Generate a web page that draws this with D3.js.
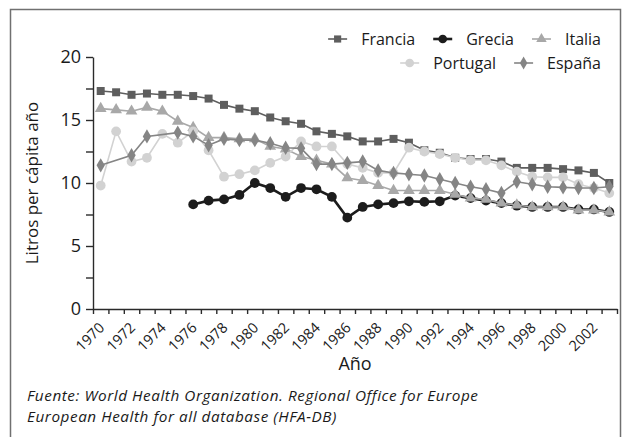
<!DOCTYPE html>
<html>
<head>
<meta charset="utf-8">
<script src="https://cdn.jsdelivr.net/npm/d3@7"></script>
<style>
    body { margin: 0; background: #fff; }
    svg { display: block; font-family: "Open Sans", "Noto Sans", sans-serif; }
</style>
</head>
<body>
<div id="chart"></div>
<script>
// ######### DATA ###########
var years = d3.range(1970, 2004);
var yTicks = [0, 2.5, 5, 7.5, 10, 12.5, 15, 17.5, 20];

var francia = [17.3, 17.2, 17.0, 17.1, 17.0, 17.0, 16.9, 16.7, 16.2, 15.9,
               15.7, 15.2, 14.9, 14.7, 14.1, 13.9, 13.7, 13.3, 13.3, 13.5,
               13.2, 12.6, 12.4, 12.0, 11.9, 11.9, 11.7, 11.2, 11.2, 11.2,
               11.1, 11.0, 10.8, 10.0];
var grecia = [null, null, null, null, null, null, 8.3, 8.6, 8.7, 9.05,
              10.0, 9.6, 8.9, 9.6, 9.5, 8.9, 7.25, 8.1, 8.3, 8.4,
              8.55, 8.5, 8.55, 9.0, 8.8, 8.6, 8.4, 8.2, 8.1, 8.1,
              8.1, 7.9, 7.9, 7.7];
var italia = [15.9, 15.8, 15.7, 16.0, 15.7, 14.9, 14.4, 13.6, 13.6, 13.5,
              13.5, 12.9, 12.7, 12.1, 11.8, 11.5, 10.4, 10.2, 9.8, 9.4,
              9.4, 9.4, 9.4, 9.1, 8.8, 8.7, 8.4, 8.25, 8.1, 8.1,
              8.1, 7.85, 7.85, 7.7];
var portugal = [9.8, 14.1, 11.7, 12.0, 13.9, 13.2, 14.1, 12.6, 10.5, 10.7,
                11.0, 11.6, 12.1, 13.3, 12.9, 12.9, 11.5, 11.2, 10.8, 10.8,
                12.8, 12.5, 12.3, 12.0, 11.8, 11.8, 11.4, 10.9, 10.5, 10.45,
                10.45, 9.9, 9.6, 9.2];
var espana = [11.4, null, 12.2, 13.7, null, 14.0, 13.7, 13.0, 13.5, 13.4,
              13.4, 13.15, 12.8, 12.75, 11.5, 11.5, 11.6, 11.7, 11.0, 10.8,
              10.7, 10.6, 10.3, 10.0, 9.7, 9.5, 9.2, 10.1, 9.9, 9.7,
              9.65, 9.6, 9.6, 9.7];

var seriesNames = ["Francia", "Grecia", "Italia", "Portugal", "España"];
var seriesValues = [francia, grecia, italia, portugal, espana];

// ######### PARAMETERS ###########
var width = 630, height = 437;
var plotLeft = 93, plotRight = 617, plotTop = 57, plotBottom = 309;

var styles = {
    "Francia":  {color: "#5e5e5e", symbol: d3.symbolSquare,   size: 64, lw: 1.6},
    "Grecia":   {color: "#1c1c1c", symbol: d3.symbolCircle,   size: 75, lw: 2.6},
    "Italia":   {color: "#a8a8a8", symbol: d3.symbolTriangle, size: 60, lw: 1.6},
    "Portugal": {color: "#d2d2d2", symbol: d3.symbolCircle,   size: 75, lw: 1.6},
    "España":   {color: "#858585", symbol: d3.symbolDiamond,  size: 60, lw: 1.6}
};

var svg = d3.select("#chart").append("svg")
    .attr("width", width)
    .attr("height", height);

// frame round the figure
svg.append("rect")
    .attr("x", 10.5).attr("y", 9.5)
    .attr("width", 610).attr("height", 440)
    .attr("fill", "none")
    .attr("stroke", "#707070")
    .attr("stroke-width", 1.5);

// scales
var x = d3.scaleBand().domain(years).range([plotLeft, plotRight]);
var xEdge = d3.scaleLinear().domain([1970, 2004]).range([plotLeft, plotRight]);
var y = d3.scaleLinear().domain([0, 20]).range([plotBottom, plotTop]);

// y axis
var yAxis = d3.axisLeft(y)
    .tickValues(yTicks)
    .tickSize(7)
    .tickSizeOuter(0)
    .tickPadding(5)
    .tickFormat(function(d) { return d % 5 === 0 ? d : ""; });

var gy = svg.append("g")
    .attr("transform", "translate(" + plotLeft + ",0)")
    .call(yAxis);
gy.selectAll("text")
    .style("font-size", "18px")
    .style("font-family", "'Open Sans', sans-serif")
    .attr("fill", "#1a1a1a");

// x axis: ticks on the category edges, labels under every other category
var xAxis = d3.axisBottom(xEdge)
    .tickValues(d3.range(1970, 2005))
    .tickSize(5)
    .tickSizeOuter(0)
    .tickFormat("");

svg.append("g")
    .attr("transform", "translate(0," + plotBottom + ")")
    .call(xAxis);

svg.selectAll(".domain, .tick line")
    .attr("stroke", "#2a2a2a")
    .attr("stroke-width", 1.4);

svg.append("g").selectAll("text")
    .data(years.filter(function(d) { return d % 2 === 0; }))
    .enter().append("text")
    .attr("transform", function(d) {
        return "translate(" + (x(d) + x.bandwidth() / 2 + 1) + "," + (plotBottom + 16) + ") rotate(-45)";
    })
    .attr("text-anchor", "end")
    .attr("dy", "0.35em")
    .style("font-size", "14.5px")
    .attr("fill", "#1a1a1a")
    .text(function(d) { return d; });

// axis titles
svg.append("text")
    .attr("transform", "translate(38," + ((plotTop + plotBottom) / 2) + ") rotate(-90)")
    .attr("text-anchor", "middle")
    .style("font-size", "17px")
    .attr("fill", "#1a1a1a")
    .text("Litros per cápita año");

svg.append("text")
    .attr("x", (plotLeft + plotRight) / 2)
    .attr("y", 370)
    .attr("text-anchor", "middle")
    .style("font-size", "18px")
    .attr("fill", "#1a1a1a")
    .text("Año");

// source note, one text element per line
var noteLines = ["Fuente: World Health Organization. Regional Office for Europe",
                 "European Health for all database (HFA-DB)"];
svg.append("g").selectAll("text")
    .data(noteLines)
    .enter().append("text")
    .attr("x", 27)
    .attr("y", function(d, i) { return 401 + i * 21; })
    .style("font-size", "15.3px")
    .style("letter-spacing", "0.55px")
    .style("font-style", "italic")
    .attr("fill", "#1a1a1a")
    .text(function(d) { return d; });

// series
var line = d3.line()
    .x(function(d) { return x(d.year) + x.bandwidth() / 2; })
    .y(function(d) { return y(d.value); });

seriesNames.forEach(function(name, i) {
    var st = styles[name];
    var pts = years.map(function(yr, j) { return {year: yr, value: seriesValues[i][j]}; })
        .filter(function(d) { return d.value !== null; });

    svg.append("path")
        .datum(pts)
        .attr("fill", "none")
        .attr("stroke", st.color)
        .attr("stroke-width", st.lw)
        .attr("d", line);

    svg.append("g").selectAll("path")
        .data(pts)
        .enter().append("path")
        .attr("transform", function(d) {
            return "translate(" + (x(d.year) + x.bandwidth() / 2) + "," + y(d.value) + ")";
        })
        .attr("d", d3.symbol().type(st.symbol).size(st.size))
        .attr("fill", st.color);
});

// legend, two right-aligned rows
var legendRows = [["Francia", "Grecia", "Italia"], ["Portugal", "España"]];
var legendRight = 601, rowY = [39, 63];

legendRows.forEach(function(row, r) {
    var xPos = legendRight;
    row.slice().reverse().forEach(function(name) {
        var st = styles[name];
        var g = svg.append("g");
        var t = g.append("text")
            .attr("y", rowY[r])
            .attr("dy", "0.35em")
            .style("font-size", "16px")
            .attr("fill", "#1a1a1a")
            .text(name);
        var w = t.node().getComputedTextLength();
        t.attr("x", xPos - w);
        var lx = xPos - w - 14;
        g.append("line")
            .attr("x1", lx - 19).attr("x2", lx)
            .attr("y1", rowY[r]).attr("y2", rowY[r])
            .attr("stroke", st.color)
            .attr("stroke-width", st.lw);
        g.append("path")
            .attr("transform", "translate(" + (lx - 9.5) + "," + rowY[r] + ")")
            .attr("d", d3.symbol().type(st.symbol).size(st.size * 0.8))
            .attr("fill", st.color);
        xPos = lx - 19 - 18;
    });
});
</script>
</body>
</html>
